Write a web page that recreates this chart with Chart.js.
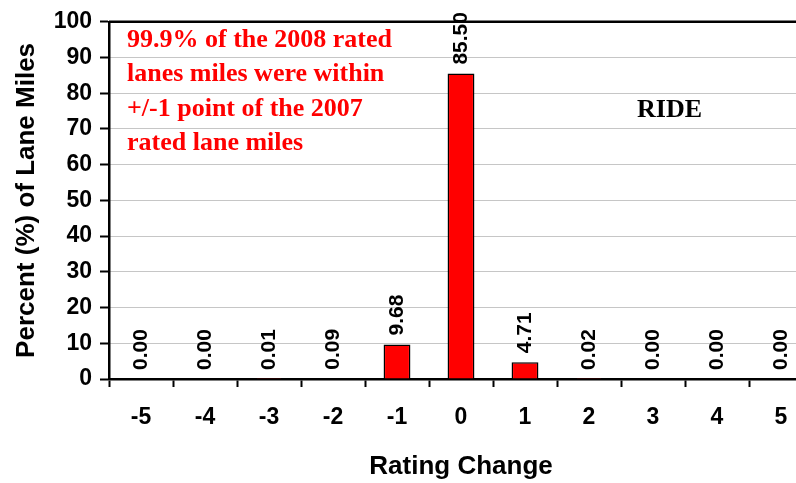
<!DOCTYPE html>
<html>
<head>
<meta charset="utf-8">
<script src="https://cdn.jsdelivr.net/npm/chart.js@4/dist/chart.umd.min.js"></script>
<style>
  html, body { margin: 0; padding: 0; background: #fff; overflow: hidden; }
  #wrap { width: 830px; height: 483px; position: relative; }
</style>
</head>
<body>
<div id="wrap"><canvas id="myChart"></canvas></div>
<script>
// categorias e valores
var ratingChange = ['-5', '-4', '-3', '-2', '-1', '0', '1', '2', '3', '4', '5'];
var percentLaneMiles = [0.00, 0.00, 0.01, 0.09, 9.68, 85.50, 4.71, 0.02, 0.00, 0.00, 0.00];
var noteLines = ['99.9% of the 2008 rated', 'lanes miles were within', '+/-1 point of the 2007', 'rated lane miles'];
var noteTag = 'RIDE';

var ctx = document.getElementById('myChart').getContext('2d');

// rótulos dos valores, girados
var valueLabels = {
  id: 'valueLabels',
  afterDatasetsDraw: function (chart) {
    var c = chart.ctx;
    var meta = chart.getDatasetMeta(0);
    c.save();
    c.font = 'bold 21px "Liberation Sans", Arial, sans-serif';
    c.fillStyle = '#000';
    c.textAlign = 'left';
    c.textBaseline = 'middle';
    meta.data.forEach(function (bar, i) {
      c.save();
      c.translate(bar.x, bar.y - 9);
      c.rotate(-Math.PI / 2);
      c.fillText(percentLaneMiles[i].toFixed(2), 0, 0);
      c.restore();
    });
    c.restore();
  }
};

// borda superior e textos da nota
var extras = {
  id: 'extras',
  beforeDatasetsDraw: function (chart) {
    var a = chart.chartArea;
    var c = chart.ctx;
    c.save();
    c.strokeStyle = '#000';
    c.lineWidth = 2.5;
    c.beginPath();
    c.moveTo(a.left, a.top);
    c.lineTo(a.right, a.top);
    c.lineTo(a.right, a.bottom);
    c.stroke();
    c.restore();
  },
  afterDraw: function (chart) {
    var c = chart.ctx;
    c.save();
    c.font = 'bold 26px "Liberation Serif", "Times New Roman", serif';
    c.textAlign = 'left';
    c.textBaseline = 'alphabetic';
    c.fillStyle = '#ff0000';
    noteLines.forEach(function (t, i) {
      c.fillText(t, 127, 47 + i * 34.3);
    });
    c.fillStyle = '#000';
    c.fillText(noteTag, 637, 117);
    c.restore();
  }
};

var myChart = new Chart(ctx, {
  type: 'bar',
  data: {
    labels: ratingChange,
    datasets: [{
      data: percentLaneMiles,
      backgroundColor: '#ff0000',
      borderColor: '#000',
      borderWidth: 1.5,
      categoryPercentage: 1,
      barPercentage: 0.42
    }]
  },
  options: {
    responsive: true,
    maintainAspectRatio: false,
    animation: false,
    layout: { padding: { left: 0, top: 18, right: 17, bottom: 0 } },
    plugins: {
      legend: { display: false },
      tooltip: { enabled: false }
    },
    scales: {
      x: {
        offset: true,
        grid: {
          offset: true,
          drawOnChartArea: false,
          tickLength: 8,
          tickColor: '#000',
          tickWidth: 2
        },
        border: { color: '#000', width: 2.5 },
        ticks: {
          color: '#000',
          padding: 17,
          maxRotation: 0,
          font: { family: '"Liberation Sans", Arial, sans-serif', size: 23, weight: 'bold' }
        },
        title: {
          display: true,
          text: 'Rating Change',
          color: '#000',
          padding: { top: 0, bottom: 1 },
          font: { family: '"Liberation Sans", Arial, sans-serif', size: 26, weight: 'bold' }
        },
        afterFit: function (scale) { scale.height = 104; }
      },
      y: {
        min: 0,
        max: 100,
        ticks: {
          stepSize: 10,
          color: '#000',
          padding: 8,
          font: { family: '"Liberation Sans", Arial, sans-serif', size: 23, weight: 'bold' }
        },
        grid: {
          color: '#8c8c8c',
          lineWidth: 1,
          tickLength: 9,
          tickColor: '#000',
          tickWidth: 2,
          tickBorderDash: []
        },
        border: { color: '#000', width: 2.5, dash: [1, 1] },
        title: {
          display: true,
          text: 'Percent (%) of Lane Miles',
          color: '#000',
          padding: { top: 11, bottom: 0 },
          font: { family: '"Liberation Sans", Arial, sans-serif', size: 26, weight: 'bold' }
        },
        afterFit: function (scale) { scale.width = 109; }
      }
    }
  },
  plugins: [valueLabels, extras]
});
</script>
</body>
</html>
